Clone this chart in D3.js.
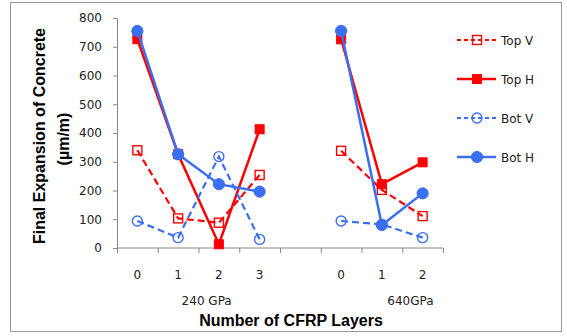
<!DOCTYPE html>
<html>
<head>
<meta charset="utf-8">
<script src="https://cdn.jsdelivr.net/npm/d3@7"></script>
<style>
  body { margin: 0; background: #fff; }
  text { font-family: "DejaVu Sans", sans-serif; font-size: 12px; fill: #222; }
  .title { font-family: "Liberation Sans", Arial, sans-serif; font-weight: bold; font-size: 16px; fill: #000; }
</style>
</head>
<body>
<div id="chart"></div>
<script>
// chart data: one slot per category, null = gap between the two groups
var groups = ["240 GPa", "640GPa"];
var groupStart = [0, 5];
var layerLabels = ["0", "1", "2", "3", "", "0", "1", "2"];

var topV = [340, 103, 88, 254, null, 338, 202, 111];
var topH = [726, 326, 13, 413, null, 726, 222, 298];
var botV = [94, 36, 318, 30, null, 94, 82, 36];
var botH = [755, 326, 222, 196, null, 755, 80, 190];

var seriesNames = ["Top V", "Top H", "Bot V", "Bot H"];
var yTicks = [0, 100, 200, 300, 400, 500, 600, 700, 800];

var svgWidth = 567;
var svgHeight = 336;

var margin = { top: 18, right: 124, bottom: 88, left: 117 };
var width = svgWidth - margin.left - margin.right;
var height = svgHeight - margin.top - margin.bottom;

var red = "#ff0000";
var blue = "#3a6ff2";

var series = [
  { name: seriesNames[0], values: topV, color: red, dash: "7,4", marker: "square", filled: false },
  { name: seriesNames[1], values: topH, color: red, dash: null, marker: "square", filled: true },
  { name: seriesNames[2], values: botV, color: blue, dash: "7,4", marker: "circle", filled: false },
  { name: seriesNames[3], values: botH, color: blue, dash: null, marker: "circle", filled: true }
];

var svg = d3.select("#chart")
  .append("svg")
  .attr("width", svgWidth)
  .attr("height", svgHeight);

// outer frame
svg.append("rect")
  .attr("x", 10.5)
  .attr("y", 2.5)
  .attr("width", 551)
  .attr("height", 329)
  .attr("fill", "none")
  .attr("stroke", "#9a9a9a")
  .attr("stroke-width", 1);

var chartGroup = svg.append("g")
  .attr("transform", `translate(${margin.left}, ${margin.top})`);

var xScale = d3.scaleBand()
  .domain(d3.range(layerLabels.length))
  .range([0, width]);

var yScale = d3.scaleLinear()
  .domain([0, 800])
  .range([height, 0]);

var bw = xScale.bandwidth();
var cx = i => xScale(i) + bw / 2;

// y axis
var leftAxis = d3.axisLeft(yScale)
  .tickValues(yTicks)
  .tickSize(4)
  .tickPadding(11);

var yAxis = chartGroup.append("g").call(leftAxis);
yAxis.select(".domain").attr("stroke", "#888");
yAxis.selectAll(".tick line").attr("stroke", "#888");
yAxis.selectAll(".tick text")
  .style("font-family", "DejaVu Sans, sans-serif")
  .style("font-size", "12px")
  .attr("fill", "#222");

// x axis (category ticks sit on band boundaries)
var xAxis = chartGroup.append("g")
  .attr("transform", `translate(0, ${height})`);

xAxis.append("line")
  .attr("x1", 0)
  .attr("x2", width)
  .attr("stroke", "#888");

var boundaries = d3.range(layerLabels.length).map(i => xScale(i)).concat([width]);
xAxis.selectAll(".xtick")
  .data(boundaries)
  .enter()
  .append("line")
  .attr("x1", d => d + 0.5)
  .attr("x2", d => d + 0.5)
  .attr("y1", 0)
  .attr("y2", 5)
  .attr("stroke", "#888");

xAxis.selectAll(".xlabel")
  .data(layerLabels)
  .enter()
  .append("text")
  .attr("x", (d, i) => cx(i))
  .attr("y", 31)
  .attr("text-anchor", "middle")
  .text(d => d);

xAxis.selectAll(".glabel")
  .data(groups)
  .enter()
  .append("text")
  .attr("x", (d, i) => xScale(groupStart[i]) + bw * 2.2)
  .attr("y", 57)
  .attr("text-anchor", "middle")
  .text(d => d);

// axis titles
svg.append("text")
  .attr("class", "title")
  .attr("x", 291)
  .attr("y", 326)
  .attr("text-anchor", "middle")
  .text("Number of CFRP Layers");

svg.append("text")
  .attr("class", "title")
  .attr("transform", "translate(45, 136) rotate(-90)")
  .attr("text-anchor", "middle")
  .text("Final Expansion of Concrete");

svg.append("text")
  .attr("class", "title")
  .attr("transform", "translate(69, 139) rotate(-90)")
  .attr("text-anchor", "middle")
  .text("(µm/m)");

// draws one marker centred on 0,0 inside g
function drawMarker(g, s) {
  if (s.marker === "square") {
    var size = s.filled ? 9 : 9;
    g.append("rect")
      .attr("x", -size / 2)
      .attr("y", -size / 2)
      .attr("width", size)
      .attr("height", size)
      .attr("fill", s.filled ? s.color : "none")
      .attr("stroke", s.color)
      .attr("stroke-width", s.filled ? 1 : 1.4);
  } else {
    g.append("circle")
      .attr("r", s.filled ? 5.6 : 5)
      .attr("fill", s.filled ? s.color : "none")
      .attr("stroke", s.color)
      .attr("stroke-width", s.filled ? 1 : 1.4);
  }
}

var line = d3.line()
  .defined(d => d != null)
  .x((d, i) => cx(i))
  .y(d => yScale(d));

series.forEach(function(s) {
  var sg = chartGroup.append("g");

  sg.append("path")
    .datum(s.values)
    .attr("d", line)
    .attr("fill", "none")
    .attr("stroke", s.color)
    .attr("stroke-width", s.dash ? 2.2 : 2.5)
    .attr("stroke-dasharray", s.dash);

  s.values.forEach(function(v, i) {
    if (v == null) return;
    var mg = sg.append("g")
      .attr("transform", `translate(${cx(i)}, ${yScale(v)})`);
    drawMarker(mg, s);
  });
});

// legend
var legend = svg.append("g")
  .attr("transform", "translate(457, 40)");

series.forEach(function(s, i) {
  var row = legend.append("g")
    .attr("transform", `translate(0, ${i * 39})`);

  row.append("line")
    .attr("x1", 0)
    .attr("x2", 39)
    .attr("stroke", s.color)
    .attr("stroke-width", s.dash ? 2.2 : 2.5)
    .attr("stroke-dasharray", s.dash ? "4,3" : null);

  drawMarker(row.append("g").attr("transform", "translate(20, 0)"), s);

  row.append("text")
    .attr("x", 44)
    .attr("y", 4.5)
    .text(s.name);
});
</script>
</body>
</html>
